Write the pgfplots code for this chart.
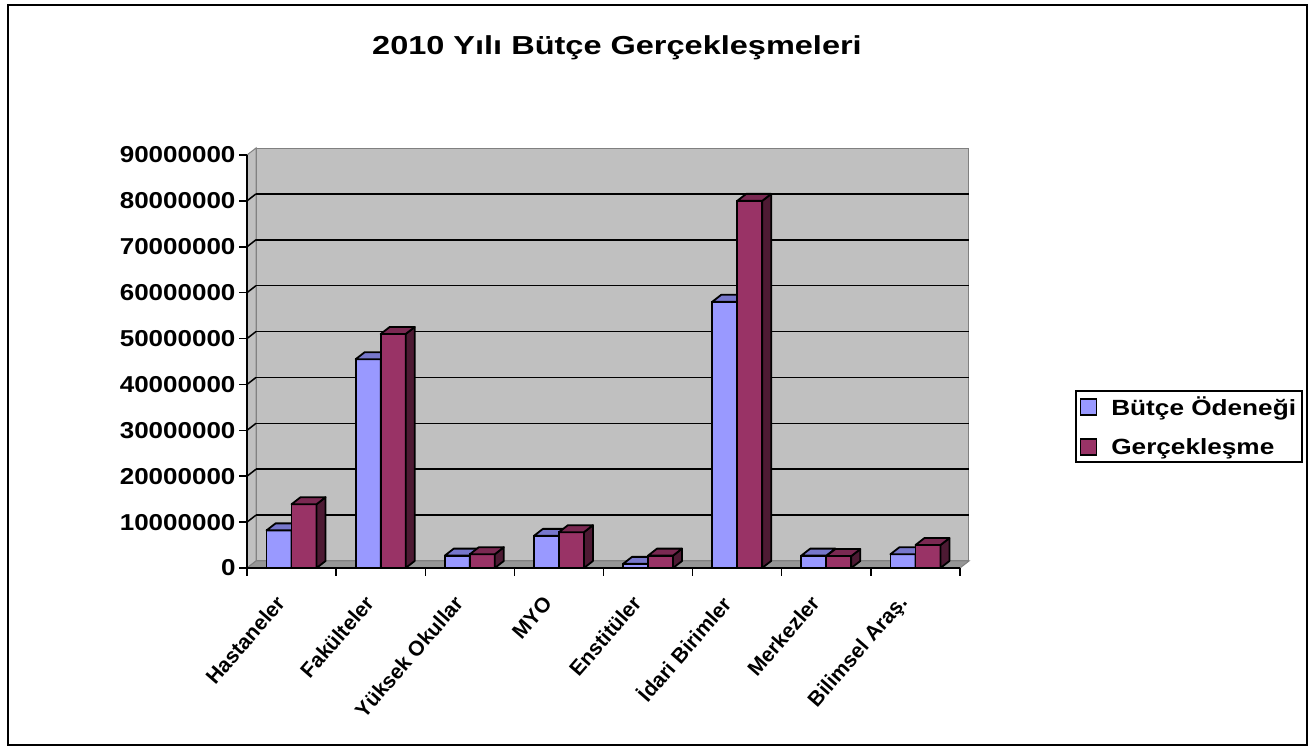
\documentclass[border=0pt]{standalone}
\usepackage{fontspec}
\setmainfont{Liberation Sans}[FakeStretch=1.13]
\newfontfamily\titlefont{Liberation Sans}[FakeStretch=1.25]
\newfontfamily\legfont{Liberation Sans}[FakeStretch=1.19]
\newfontfamily\catfont{Liberation Sans}
\usepackage{pgfplots}
\usepackage{pgfplotstable}
\pgfplotsset{compat=1.18}

\definecolor{bluebar}{RGB}{153,153,255}
\definecolor{bluetop}{RGB}{119,119,204}
\definecolor{blueside}{RGB}{77,77,128}
\definecolor{redbar}{RGB}{153,51,102}
\definecolor{redtop}{RGB}{122,41,82}
\definecolor{redside}{RGB}{77,26,51}
\definecolor{wallc}{RGB}{192,192,192}
\definecolor{floorc}{RGB}{150,150,150}
\definecolor{edgec}{RGB}{128,128,128}

\pgfplotstableread{
x b g
0 8200000 13900000
1 45500000 51000000
2 2700000 3000000
3 7000000 7800000
4 900000 2700000
5 58000000 80000000
6 2700000 2600000
7 3000000 5000000
}\datatable

\pgfdeclareplotmark{none3d}{}

\pgfplotsset{
  cube3d/.style n args={4}{%
    only marks, scatter, mark=none3d, point meta=y,
    scatter/@pre marker code/.code={%
      \pgfmathsetmacro\hh{\pgfplotspointmetatransformed*0.413}%
      \filldraw[fill=#4, draw=black, line width=1.8bp, line join=round]
        (#2bp,0bp) -- (#2bp+9bp,7bp) -- (#2bp+9bp,7bp-\hh bp) -- (#2bp,-\hh bp) -- cycle;
      \filldraw[fill=#3, draw=black, line width=1.8bp, line join=round]
        (#1bp,0bp) -- (#2bp,0bp) -- (#2bp+9bp,7bp) -- (#1bp+9bp,7bp) -- cycle;
    },
    scatter/@post marker code/.code={},
  }
}

\begin{document}
\begin{tikzpicture}
\useasboundingbox (0,0) rectangle (1315bp,750bp);
\draw[line width=2bp] (8bp,5bp) rectangle (1307bp,745bp);
\node[font=\titlefont\fontsize{26bp}{30bp}\selectfont\bfseries] at (617bp,702bp) {2010 Yılı Bütçe Gerçekleşmeleri};
\begin{axis}[
  at={(247bp,182bp)}, anchor=south west,
  scale only axis, width=713bp, height=413bp,
  xmin=-0.5, xmax=7.5, ymin=0, ymax=90000000,
  clip=false, clip marker paths=true, axis on top,
  axis x line*=bottom, axis y line*=left,
  axis line style={line width=1.8bp, black, -},
  xtick={0,1,2,3,4,5,6,7},
  xticklabels={Hastaneler, Fakülteler, Yüksek Okullar, MYO, Enstitüler, İdari Birimler, Merkezler, Bilimsel Araş.},
  minor xtick={-0.5,0.5,1.5,2.5,3.5,4.5,5.5,6.5,7.5},
  ytick={0,10000000,20000000,30000000,40000000,50000000,60000000,70000000,80000000,90000000},
  tick align=outside, major tick length=8bp, minor tick length=8bp,
  major x tick style={draw=none},
  minor x tick style={black, line width=1.5bp},
  major y tick style={black, line width=1.5bp},
  scaled y ticks=false,
  yticklabel style={font=\fontsize{23bp}{26bp}\selectfont\bfseries,
    /pgf/number format/fixed, /pgf/number format/precision=0,
    /pgf/number format/1000 sep={}, /pgf/number format/assume math mode=true},
  xticklabel style={xshift=-9bp, yshift=-21bp, rotate=49, anchor=east, font=\catfont\fontsize{21bp}{24bp}\selectfont\bfseries},
  point meta min=0, point meta max=90000000,
  legend style={at={(1.161,0.343)}, anchor=west, draw=black, line width=1.8bp,
    font=\legfont\fontsize{22bp}{26bp}\selectfont\bfseries,
    row sep=17bp, inner xsep=4bp, inner ysep=4bp},
  legend cell align=left,
]
% back wall
\filldraw[fill=wallc, draw=edgec, line width=1bp]
  ([xshift=9bp,yshift=7bp]axis cs:-0.5,0) rectangle ([xshift=9bp,yshift=7bp]axis cs:7.5,90000000);
% left wall
\filldraw[fill=wallc, draw=edgec, line width=1bp]
  (axis cs:-0.5,0) -- ([xshift=9bp,yshift=7bp]axis cs:-0.5,0) -- ([xshift=9bp,yshift=7bp]axis cs:-0.5,90000000) -- (axis cs:-0.5,90000000) -- cycle;
% floor
\filldraw[fill=floorc, draw=edgec, line width=1bp]
  (axis cs:-0.5,0) -- (axis cs:7.5,0) -- ([xshift=9bp,yshift=7bp]axis cs:7.5,0) -- ([xshift=9bp,yshift=7bp]axis cs:-0.5,0) -- cycle;
% grid lines
\pgfplotsinvokeforeach{1,2,3,4,5,6,7,8}{
  \draw[black, line width=1.5bp] ([xshift=9bp,yshift=7bp]axis cs:-0.5,#10000000) -- ([xshift=9bp,yshift=7bp]axis cs:7.5,#10000000);
  \draw[black, line width=1.5bp] (axis cs:-0.5,#10000000) -- ([xshift=9bp,yshift=7bp]axis cs:-0.5,#10000000);
}

\addplot[ybar, bar width=25bp, bar shift=-12.5bp, fill=bluebar, draw=black, line width=1.8bp,
  legend image code/.code={\draw[fill=bluebar, draw=black, line width=1.5bp] (4bp,-8bp) rectangle (20bp,8bp); \path (32bp,0bp);}]
  table[x=x,y=b]{\datatable};
\addlegendentry{Bütçe Ödeneği}
\addplot[cube3d={-25}{0}{bluetop}{blueside}, forget plot] table[x=x,y=b]{\datatable};

\addplot[ybar, bar width=25bp, bar shift=12.5bp, fill=redbar, draw=black, line width=1.8bp,
  legend image code/.code={\draw[fill=redbar, draw=black, line width=1.5bp] (4bp,-8bp) rectangle (20bp,8bp); \path (32bp,0bp);}]
  table[x=x,y=g]{\datatable};
\addlegendentry{Gerçekleşme}
\addplot[cube3d={0}{25}{redtop}{redside}, forget plot] table[x=x,y=g]{\datatable};
\end{axis}
\end{tikzpicture}
\end{document}
